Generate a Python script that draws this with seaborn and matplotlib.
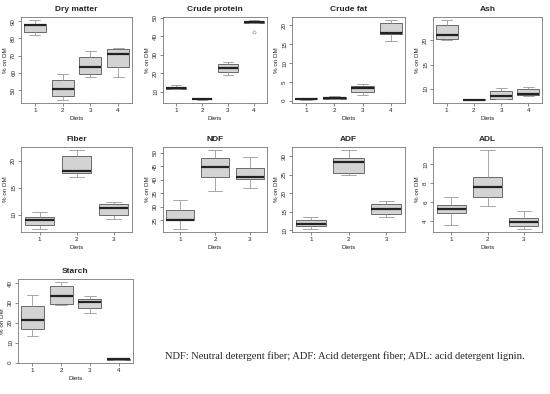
import numpy as np
import pandas as pd
import matplotlib.pyplot as plt
import seaborn as sns

# five values per diet: low whisker, Q1, median, Q3, high whisker
# (an extra low value becomes an outlier when it falls beyond 1.5 IQR)
dry_matter = [[82.0, 83.7, 87.7, 88.1, 90.6],
              [44.4, 46.9, 50.7, 55.9, 59.5],
              [57.8, 59.5, 63.6, 69.1, 72.8],
              [57.4, 63.2, 70.8, 73.7, 74.7]]
crude_protein = [[11.4, 11.7, 12.3, 12.8, 13.5],
                 [5.7, 5.9, 6.0, 6.1, 6.2],
                 [19.2, 21.0, 23.0, 24.9, 26.3],
                 [42.5, 47.2, 47.7, 48.2, 48.8]]
crude_fat = [[0.2, 0.3, 0.45, 0.6, 0.7],
             [0.3, 0.45, 0.8, 1.0, 1.3],
             [1.6, 2.2, 3.3, 3.8, 4.3],
             [15.9, 17.6, 18.1, 20.7, 21.4]]
ash = [[20.1, 20.4, 21.2, 23.2, 24.2],
       [7.7, 7.72, 7.75, 7.8, 7.85],
       [7.8, 7.95, 8.4, 9.45, 10.1],
       [8.55, 8.6, 8.9, 10.0, 10.3]]
fiber = [[7.4, 8.1, 9.0, 9.6, 10.5],
         [17.0, 17.7, 18.1, 21.0, 22.0],
         [9.2, 10.0, 11.3, 12.1, 12.35]]
ndf = [[21.8, 25.1, 25.2, 28.8, 32.6],
       [35.8, 41.2, 44.8, 48.1, 51.0],
       [36.8, 40.2, 41.2, 44.2, 48.4]]
adf = [[10.4, 11.2, 11.7, 12.8, 13.7],
       [24.8, 25.4, 28.3, 29.6, 31.6],
       [13.7, 14.5, 15.65, 17.0, 17.8]]
adl = [[3.55, 4.8, 5.3, 5.7, 6.5],
       [5.6, 6.5, 7.6, 8.65, 11.5],
       [3.15, 3.4, 3.9, 4.35, 5.0]]
starch = [[13.6, 16.8, 21.3, 28.5, 34.1],
          [29.0, 29.3, 33.3, 38.4, 40.5],
          [25.0, 27.7, 30.6, 32.2, 33.3],
          [1.4, 1.5, 1.6, 1.7, 1.8]]

titles = ["Dry matter", "Crude protein", "Crude fat", "Ash",
          "Fiber", "NDF", "ADF", "ADL", "Starch"]
values = [dry_matter, crude_protein, crude_fat, ash,
          fiber, ndf, adf, adl, starch]
yticks = [[50, 60, 70, 80, 90], [10, 20, 30, 40, 50], [0, 5, 10, 15, 20],
          [10, 15, 20], [10, 15, 20], [25, 30, 35, 40, 45, 50],
          [10, 15, 20, 25, 30], [4, 6, 8, 10], [0, 10, 20, 30, 40]]

footnote = "NDF: Neutral detergent fiber; ADF: Acid detergent fiber; ADL: acid detergent lignin."

W, H = 550, 394
# panel boxes in pixels: left, top, right, bottom
boxes = [(21, 17, 132, 103), (163, 17, 267, 103), (292, 17, 405, 103), (433, 17, 542, 103),
         (21, 147, 132, 232), (163, 147, 267, 232), (292, 147, 405, 232), (433, 147, 542, 232),
         (18, 279, 133, 363)]

sns.set_style("white")
plt.rcParams['font.family'] = ['Liberation Sans', 'DejaVu Sans']

fig = plt.figure(figsize=(W / 100, H / 100), dpi=100)

for title, vals, ticks, (l, t, r, b) in zip(titles, values, yticks, boxes):
    ax = fig.add_axes([l / W, 1 - b / H, (r - l) / W, (b - t) / H])
    df = pd.DataFrame([(str(i + 1), v) for i, grp in enumerate(vals) for v in grp],
                      columns=["Diet", "value"])
    sns.boxplot(data=df, x="Diet", y="value", ax=ax, color="#d3d3d3",
                linecolor="#555555", linewidth=0.6, width=0.8, whis=1.5,
                medianprops=dict(color="#222222", linewidth=1.6),
                whiskerprops=dict(color="#999999", linewidth=0.6),
                capprops=dict(color="#999999", linewidth=0.6),
                flierprops=dict(marker="o", markersize=2.2, markerfacecolor="none",
                                markeredgecolor="#999999", markeredgewidth=0.5))
    lo = min(min(g) for g in vals)
    hi = max(max(g) for g in vals)
    pad = (hi - lo) * 0.04
    ax.set_ylim(lo - pad, hi + pad)
    ax.set_yticks(ticks)
    ax.set_yticklabels([str(v) for v in ticks], rotation=90, va="center")
    ax.tick_params(axis="both", labelsize=4.5, length=2, width=0.5, color="#555555",
                   pad=1.5, left=True, bottom=True)
    ax.set_title(title, fontsize=6, fontweight="bold", pad=4)
    ax.set_xlabel("Diets", fontsize=4.5, labelpad=2)
    ax.set_ylabel("% on DM", fontsize=4.5, labelpad=2)
    for s in ax.spines.values():
        s.set_color("#777777")
        s.set_linewidth(0.6)

fig.text(165 / W, 1 - 356 / H, footnote, fontsize=7.6, family="Liberation Serif",
         ha="left", va="center")

fig.savefig("out.png", dpi=100)
